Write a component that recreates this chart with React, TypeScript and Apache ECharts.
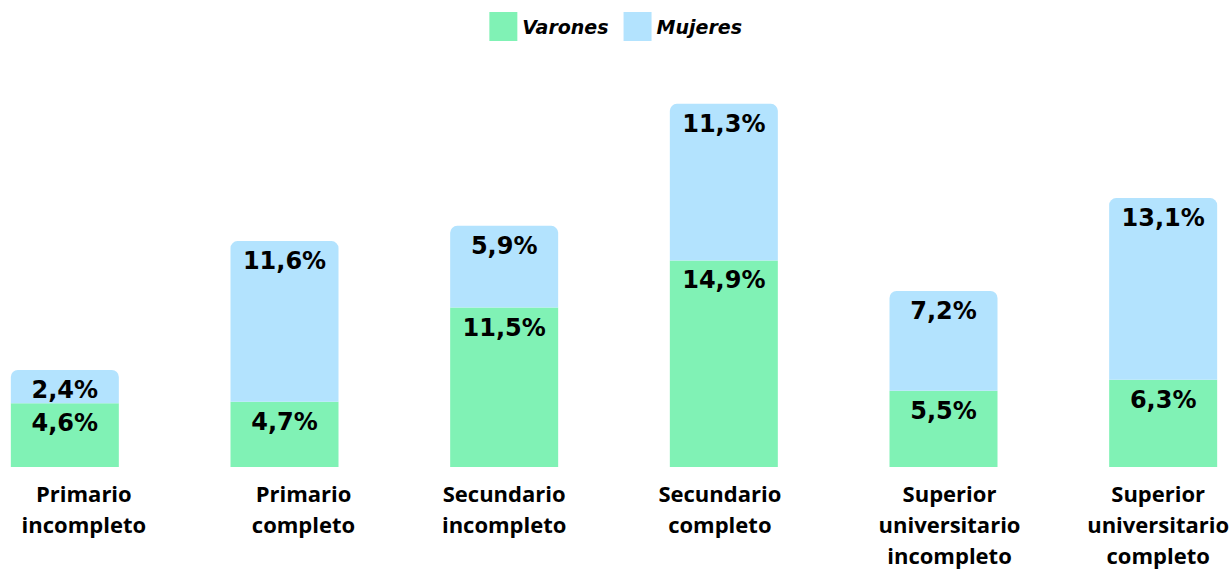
import React, { useEffect, useRef } from "react";
import * as echarts from "echarts";

const categories = [
  "Primario\nincompleto",
  "Primario\ncompleto",
  "Secundario\nincompleto",
  "Secundario\ncompleto",
  "Superior\nuniversitario\nincompleto",
  "Superior\nuniversitario\ncompleto",
];
const varones = [4.6, 4.7, 11.5, 14.9, 5.5, 6.3];
const mujeres = [2.4, 11.6, 5.9, 11.3, 7.2, 13.1];
const labelShift = [38, 38, 0, -8, 12, -10];

const fmt = (v: number) => v.toFixed(1).replace(".", ",") + "%";

export default function App() {
  const ref = useRef<HTMLDivElement>(null);
  useEffect(() => {
    if (!ref.current) return;
    const chart = echarts.init(ref.current, null, { renderer: "svg" });
    const valueLabel = {
      show: true,
      position: "insideTop" as const,
      distance: 8,
      fontFamily: "DejaVu Sans",
      fontWeight: "bold" as const,
      fontSize: 24,
      color: "#000",
      formatter: (p: any) => fmt(p.value),
    };
    chart.setOption({
      animation: false,
      legend: {
        top: 7,
        left: 529.35,
        itemWidth: 28,
        itemHeight: 29,
        itemGap: 15,
        icon: "rect",
        textStyle: {
          fontFamily: "DejaVu Sans",
          fontWeight: "bold",
          fontStyle: "italic",
          fontSize: 19,
          color: "#000",
        },
        data: ["Varones", "Mujeres"],
      },
      grid: { left: 0, right: 0, top: 51.2, bottom: 102, outerBoundsMode: "none", containLabel: false },
      xAxis: {
        type: "category",
        data: categories.map((c, i) => ({
          value: c,
          textStyle: {
            padding: labelShift[i] >= 0 ? [0, 0, 0, labelShift[i]] : [0, -labelShift[i], 0, 0],
          },
        })),
        axisLine: { show: false },
        axisTick: { show: false },
        axisLabel: {
          interval: 0,
          margin: 10,
          fontFamily: "Open Sans",
          fontWeight: "bold",
          fontSize: 22,
          lineHeight: 31,
          color: "#000",
        },
      },
      yAxis: { type: "value", min: 0, max: 30, show: false, splitLine: { show: false } },
      series: [
        {
          name: "Varones",
          type: "bar",
          stack: "t",
          barWidth: 108,
          data: varones,
          itemStyle: { color: "#80F2B5" },
          label: valueLabel,
        },
        {
          name: "Mujeres",
          type: "bar",
          stack: "t",
          barWidth: 108,
          data: mujeres,
          itemStyle: { color: "#B3E3FE", borderRadius: [7, 7, 0, 0] },
          label: valueLabel,
        },
      ],
    });
    return () => chart.dispose();
  }, []);
  return (
    <div
      style={{
        position: "absolute",
        left: 0,
        top: 0,
        width: 1231,
        height: 569,
        overflow: "hidden",
      }}
    >
      <div
        ref={ref}
        style={{ position: "absolute", left: -45.35, top: 0, width: 1318.2, height: 569 }}
      />
    </div>
  );
}
